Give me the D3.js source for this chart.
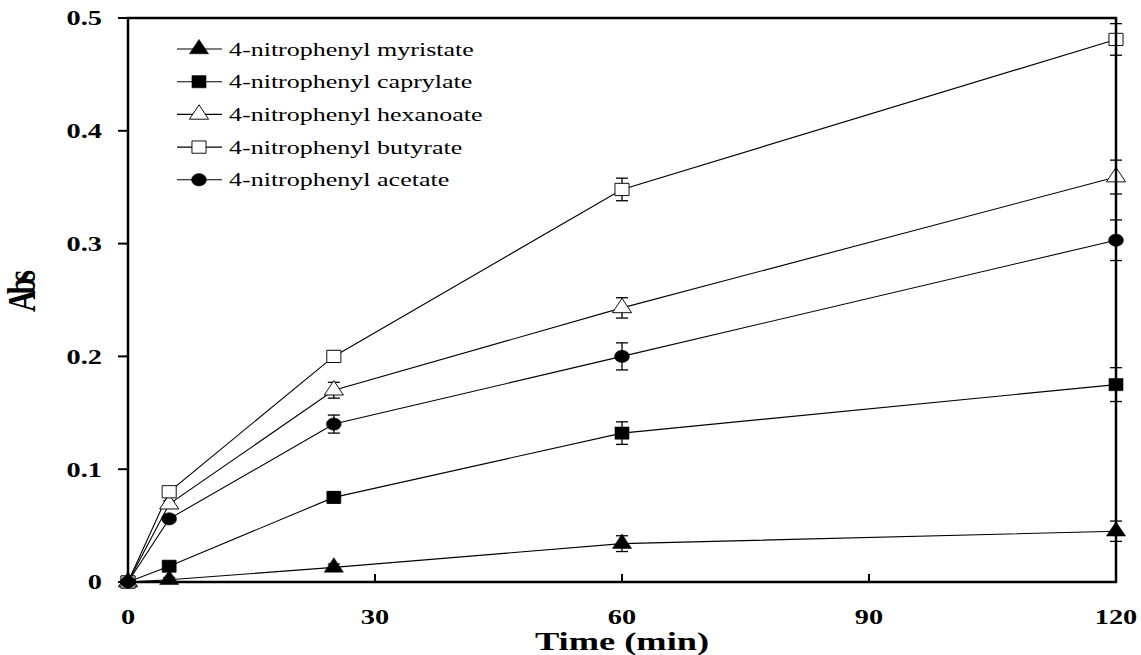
<!DOCTYPE html>
<html>
<head>
<meta charset="utf-8">
<script src="https://cdn.jsdelivr.net/npm/d3@7"></script>
<style>
  body { margin: 0; background: #fff; }
  text { font-family: "Liberation Serif", "Times New Roman", serif; fill: #000; }
</style>
</head>
<body>
<div id="chart"></div>
<script>
// sampling times (min)
const times = [0, 5, 25, 60, 120];

// substrate names (legend order)
const substrates = ['4-nitrophenyl myristate', '4-nitrophenyl caprylate', '4-nitrophenyl hexanoate',
  '4-nitrophenyl butyrate', '4-nitrophenyl acetate'];

// absorbance
const myristate = [0, 0.002, 0.013, 0.034, 0.045];
const caprylate = [0, 0.014, 0.075, 0.132, 0.175];
const hexanoate = [0, 0.069, 0.170, 0.243, 0.359];
const butyrate = [0, 0.080, 0.200, 0.348, 0.481];
const acetate = [0, 0.056, 0.140, 0.200, 0.303];

// error bar half-widths
const myristateErr = [0, 0.002, 0.003, 0.007, 0.009];
const caprylateErr = [0, 0.002, 0.005, 0.010, 0.015];
const hexanoateErr = [0, 0.003, 0.007, 0.009, 0.015];
const butyrateErr = [0, 0.003, 0.005, 0.010, 0.014];
const acetateErr = [0, 0.003, 0.008, 0.012, 0.018];

const xTicks = [0, 30, 60, 90, 120];
const yTicks = [0, 0.1, 0.2, 0.3, 0.4, 0.5];

const W = 1141, H = 655;
const plotL = 128, plotR = 1116, plotT = 18, plotB = 582;
const stretch = 1.35; // text in the picture is wider than tall

const x = d3.scaleLinear().domain([0, 120]).range([plotL, plotR]);
const y = d3.scaleLinear().domain([0, 0.5]).range([plotB, plotT]);

const svg = d3.select('#chart').append('svg')
  .attr('width', W)
  .attr('height', H);

const series = [
  { name: substrates[0], vals: myristate, err: myristateErr, shape: d3.symbolTriangle, fill: '#000', size: 120 },
  { name: substrates[1], vals: caprylate, err: caprylateErr, shape: d3.symbolSquare, fill: '#000', size: 150 },
  { name: substrates[2], vals: hexanoate, err: hexanoateErr, shape: d3.symbolTriangle, fill: '#fff', size: 120 },
  { name: substrates[3], vals: butyrate, err: butyrateErr, shape: d3.symbolSquare, fill: '#fff', size: 150 },
  { name: substrates[4], vals: acetate, err: acetateErr, shape: d3.symbolCircle, fill: '#000', size: 120 }
];

function marker(g, s) {
  g.append('path')
    .attr('d', d3.symbol().type(s.shape).size(s.size)())
    .attr('transform', s.shape === d3.symbolCircle ? 'scale(1.2,1)' : 'scale(1.15,1)')
    .attr('fill', s.fill)
    .attr('stroke', '#000')
    .attr('stroke-width', s.fill === '#fff' ? 1 / 1.15 : 0.5);
}

// lines
const line = d3.line().x((d, i) => x(times[i])).y(d => y(d));
series.forEach(s => {
  svg.append('path')
    .datum(s.vals)
    .attr('d', line)
    .attr('fill', 'none')
    .attr('stroke', '#000')
    .attr('stroke-width', 1.1);
});

// error bars
series.forEach(s => {
  const eg = svg.append('g').attr('stroke', '#000').attr('stroke-width', 1.3);
  s.vals.forEach((v, i) => {
    if (!s.err[i]) return;
    const cx = x(times[i]), y1 = y(v + s.err[i]), y2 = y(v - s.err[i]);
    eg.append('line').attr('x1', cx).attr('x2', cx).attr('y1', y1).attr('y2', y2);
    eg.append('line').attr('x1', cx - 6).attr('x2', cx + 6).attr('y1', y1).attr('y2', y1);
    eg.append('line').attr('x1', cx - 6).attr('x2', cx + 6).attr('y1', y2).attr('y2', y2);
  });
});

// markers
series.forEach(s => {
  s.vals.forEach((v, i) => {
    const g = svg.append('g').attr('transform', 'translate(' + x(times[i]) + ',' + y(v) + ')');
    marker(g, s);
  });
});

// frame
svg.append('rect')
  .attr('x', plotL).attr('y', plotT)
  .attr('width', plotR - plotL).attr('height', plotB - plotT)
  .attr('fill', 'none')
  .attr('stroke', '#000')
  .attr('stroke-width', 2.5);

// y ticks (outside)
yTicks.forEach(t => {
  svg.append('line')
    .attr('x1', plotL - 10).attr('x2', plotL)
    .attr('y1', y(t)).attr('y2', y(t))
    .attr('stroke', '#000').attr('stroke-width', 2);
  svg.append('g')
    .attr('transform', 'translate(' + (plotL - 26) + ',' + y(t) + ') scale(' + stretch + ',1)')
    .append('text')
    .attr('text-anchor', 'end')
    .attr('dy', '0.35em')
    .style('font-size', '21px')
    .style('font-weight', 'bold')
    .text(t === 0 ? '0' : d3.format('.1f')(t));
});

// x ticks (inside)
xTicks.forEach(t => {
  svg.append('line')
    .attr('x1', x(t)).attr('x2', x(t))
    .attr('y1', plotB - 8).attr('y2', plotB)
    .attr('stroke', '#000').attr('stroke-width', 2);
  svg.append('g')
    .attr('transform', 'translate(' + x(t) + ',' + 617 + ') scale(' + stretch + ',1)')
    .append('text')
    .attr('text-anchor', 'middle')
    .attr('dy', '0.35em')
    .style('font-size', '21px')
    .style('font-weight', 'bold')
    .text(t);
});

// axis titles
svg.append('g')
  .attr('transform', 'translate(' + x(60) + ',641) scale(1.4,1)')
  .append('text')
  .attr('text-anchor', 'middle')
  .attr('dy', '0.35em')
  .style('font-size', '26px')
  .style('font-weight', 'bold')
  .text('Time (min)');

svg.append('g')
  .attr('transform', 'translate(21,293) rotate(-90) scale(1,1.3)')
  .append('text')
  .attr('text-anchor', 'middle')
  .attr('dy', '0.35em')
  .style('font-size', '30px')
  .style('font-weight', 'bold')
  .style('letter-spacing', '-4px')
  .text('Abs');

// legend
const legend = svg.append('g');
series.forEach((s, i) => {
  const ly = 49 + i * 32.7;
  legend.append('line')
    .attr('x1', 177).attr('x2', 222)
    .attr('y1', ly).attr('y2', ly)
    .attr('stroke', '#000').attr('stroke-width', 1.1);
  const g = legend.append('g').attr('transform', 'translate(199,' + ly + ')');
  marker(g, s);
  legend.append('g')
    .attr('transform', 'translate(229,' + ly + ') scale(1.37,1)')
    .append('text')
    .attr('dy', '0.35em')
    .style('font-size', '19px')
    .text(s.name);
});
</script>
</body>
</html>
